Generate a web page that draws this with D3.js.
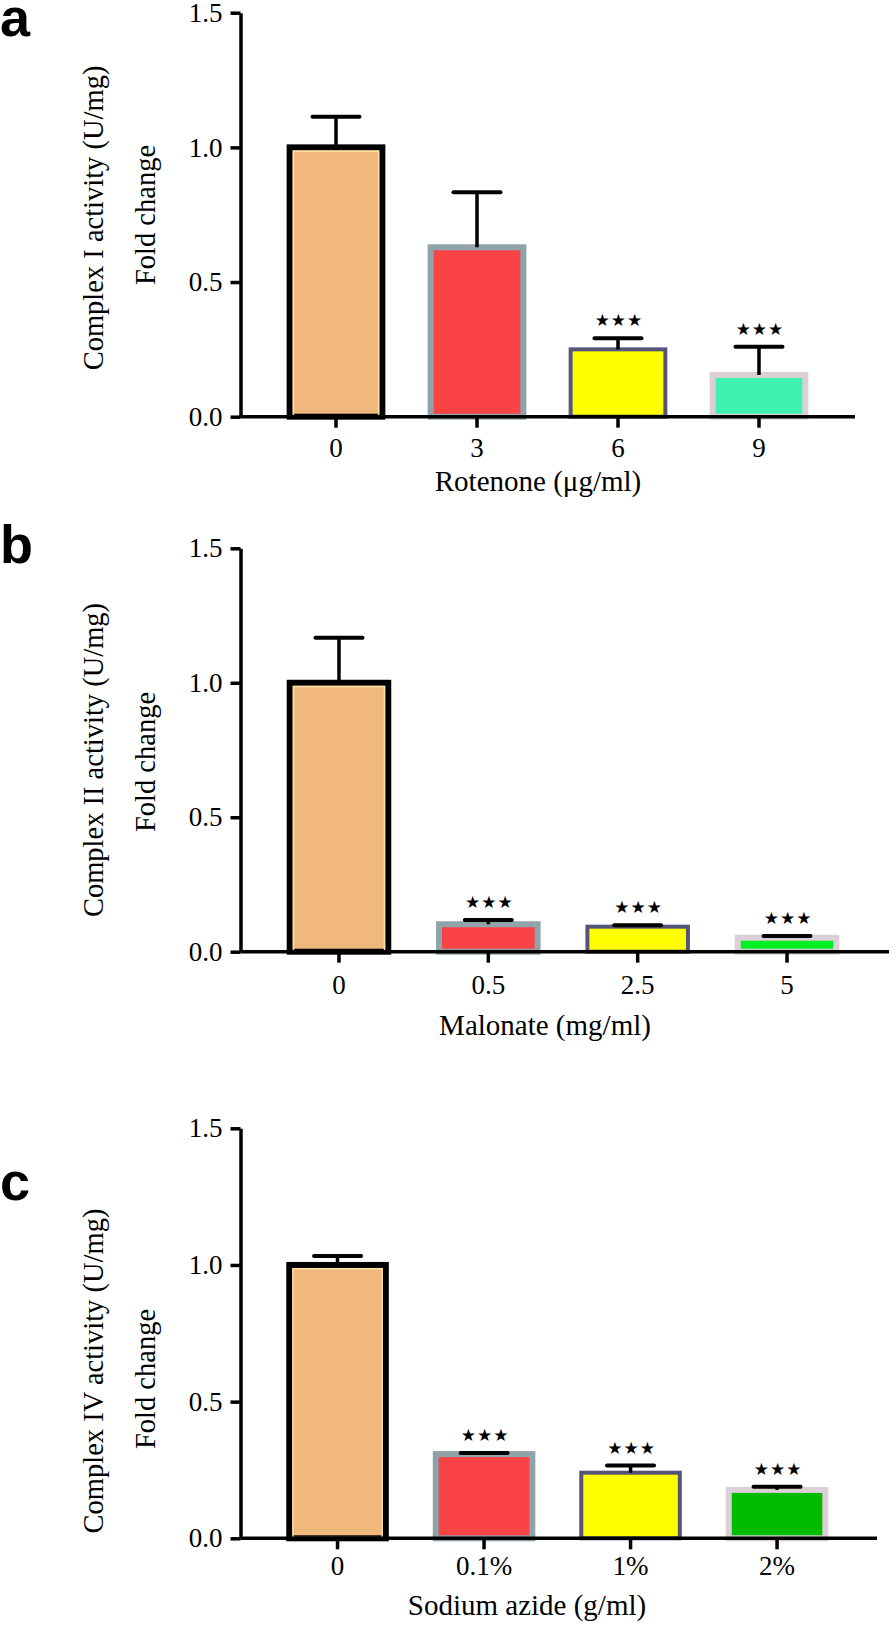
<!DOCTYPE html>
<html>
<head>
<meta charset="utf-8">
<script src="https://cdn.jsdelivr.net/npm/d3@7"></script>
<style>
  html, body { margin: 0; padding: 0; background: #fff; }
  svg { display: block; }
</style>
</head>
<body>
<svg id="chart" width="896" height="1638"></svg>
<script>
// ---------------- data ----------------
const yTicks = [0, 0.5, 1.0, 1.5];

const catsA = ["0", "3", "6", "9"];
const valuesA = [1.0, 0.629, 0.250, 0.155];
const errA = [0.114, 0.204, 0.041, 0.105];
const sigA = ["", "", "***", "***"];

const catsB = ["0", "0.5", "2.5", "5"];
const valuesB = [1.0, 0.102, 0.093, 0.052];
const errB = [0.167, 0.016, 0.005, 0.006];
const sigB = ["", "***", "***", "***"];

const catsC = ["0", "0.1%", "1%", "2%"];
const valuesC = [1.0, 0.308, 0.240, 0.177];
const errC = [0.033, 0.004, 0.026, 0.012];
const sigC = ["", "***", "***", "***"];

const letters = ["a", "b", "c"];
const yTitles = ["Complex I activity (U/mg)", "Complex II activity (U/mg)", "Complex IV activity (U/mg)"];
const yTitle2 = "Fold change";
const xTitles = ["Rotenone (\u03bcg/ml)", "Malonate (mg/ml)", "Sodium azide (g/ml)"];

// ---------------- styles / layout ----------------
const fills = [
  ["#F0B87D", "#F94345", "#FFFF00", "#40F2B0"],
  ["#F0B87D", "#F94345", "#FFFF00", "#00EE22"],
  ["#F0B87D", "#F94345", "#FFFF00", "#00BB00"]
];
const strokes = ["#000000", "#8FA3A8", "#55557A", "#DCD0D6"];
const strokeW = [6, 6, 4, 6];

const layouts = [
  { y0: 416.7, yTop: 12.7, xr: [265.5, 829.5], xEnd: 855, tickLblOff: 40, xTitleX: 538, xTitleY: 491, letterY: 36, yT1: 218, yT2: 215 },
  { y0: 951.7, yTop: 548.3, xr: [264.3, 861.7], xEnd: 889, tickLblOff: 42, xTitleX: 545, xTitleY: 1035, letterY: 563, yT1: 760, yT2: 762 },
  { y0: 1538.3, yTop: 1128.3, xr: [264.3, 850.3], xEnd: 877, tickLblOff: 37, xTitleX: 527, xTitleY: 1615, letterY: 1200, yT1: 1371, yT2: 1379 }
];
const axisX = 240.5;
const serif = "'Liberation Serif', 'Times New Roman', serif";

const panels = [
  { cats: catsA, vals: valuesA, errs: errA, sig: sigA },
  { cats: catsB, vals: valuesB, errs: errB, sig: sigB },
  { cats: catsC, vals: valuesC, errs: errC, sig: sigC }
];

const svg = d3.select("#chart");

panels.forEach((p, pi) => {
  const L = layouts[pi];
  const g = svg.append("g");

  const y = d3.scaleLinear().domain([0, 1.5]).range([L.y0, L.yTop]);
  const x = d3.scaleBand().domain(p.cats).range(L.xr).paddingInner(0.3).paddingOuter(0.15);

  // bars
  const data = p.cats.map((c, i) => ({ c, v: p.vals[i], e: p.errs[i], s: p.sig[i], i }));
  g.selectAll("rect.bar").data(data).join("rect")
    .attr("class", "bar")
    .attr("x", d => x(d.c) + strokeW[d.i] / 2)
    .attr("width", d => x.bandwidth() - strokeW[d.i])
    .attr("y", d => y(d.v))
    .attr("height", d => y(0) - y(d.v))
    .attr("fill", d => fills[pi][d.i])
    .attr("stroke", d => strokes[d.i])
    .attr("stroke-width", d => strokeW[d.i]);

  // inner light edge on control bar
  g.selectAll("rect.inner").data(data.filter(d => d.i === 0)).join("rect")
    .attr("class", "inner")
    .attr("x", d => x(d.c) + strokeW[0] + 0.75)
    .attr("width", d => x.bandwidth() - 2 * strokeW[0] - 1.5)
    .attr("y", d => y(d.v) + strokeW[0] / 2 + 0.75)
    .attr("height", d => y(0) - y(d.v) - strokeW[0] / 2 - 1.5)
    .attr("fill", "none")
    .attr("stroke", "#FFE2A8")
    .attr("stroke-width", 1.5);

  // error bars
  const capW = 47;
  data.forEach(d => {
    const cx = x(d.c) + x.bandwidth() / 2;
    g.append("line")
      .attr("x1", cx).attr("x2", cx)
      .attr("y1", y(d.v)).attr("y2", y(d.v + d.e))
      .attr("stroke", "#000").attr("stroke-width", 3.5);
    g.append("line")
      .attr("x1", cx - capW / 2).attr("x2", cx + capW / 2)
      .attr("y1", y(d.v + d.e)).attr("y2", y(d.v + d.e))
      .attr("stroke", "#000").attr("stroke-width", 4).attr("stroke-linecap", "round");
    if (d.s) {
      g.append("text")
        .attr("x", cx + 1)
        .attr("y", y(d.v + d.e) - 12)
        .attr("text-anchor", "middle")
        .attr("font-family", "'DejaVu Sans', sans-serif")
        .attr("font-size", 17)
        .attr("letter-spacing", 1)
        .attr("fill", "#000")
        .text(d.s.replace(/\*/g, "\u2605"));
    }
  });

  // y axis
  const yAxis = d3.axisLeft(y).tickValues(yTicks).tickFormat(d3.format(".1f"))
    .tickSize(10).tickPadding(8).tickSizeOuter(0);
  const ya = g.append("g").attr("transform", `translate(${axisX},0)`).call(yAxis);
  ya.select(".domain").attr("stroke", "#000").attr("stroke-width", 3.5);
  ya.selectAll(".tick line").attr("stroke", "#000").attr("stroke-width", 3.5);
  ya.selectAll(".tick text").attr("font-family", serif).attr("font-size", 27).attr("fill", "#000");

  // x axis
  const xAxis = d3.axisBottom(x).tickSize(11).tickPadding(L.tickLblOff - 11 - 19.2).tickSizeOuter(0);
  const xa = g.append("g").attr("transform", `translate(0,${L.y0})`).call(xAxis);
  xa.select(".domain").remove();
  xa.append("line").attr("x1", axisX).attr("x2", L.xEnd).attr("y1", 0).attr("y2", 0)
    .attr("stroke", "#000").attr("stroke-width", 3.5);
  xa.selectAll(".tick line").attr("stroke", "#000").attr("stroke-width", 3.5);
  xa.selectAll(".tick text").attr("font-family", serif).attr("font-size", 27).attr("fill", "#000");

  // x title
  g.append("text")
    .attr("x", L.xTitleX).attr("y", L.xTitleY)
    .attr("text-anchor", "middle")
    .attr("font-family", serif).attr("font-size", 29).attr("fill", "#000")
    .text(xTitles[pi]);

  // y titles
  g.append("text")
    .attr("transform", `translate(103,${L.yT1}) rotate(-90)`)
    .attr("text-anchor", "middle")
    .attr("font-family", serif).attr("font-size", 28.5).attr("fill", "#000")
    .text(yTitles[pi]);
  g.append("text")
    .attr("transform", `translate(155,${L.yT2}) rotate(-90)`)
    .attr("text-anchor", "middle")
    .attr("font-family", serif).attr("font-size", 28.5).attr("fill", "#000")
    .text(yTitle2);

  // panel letter
  g.append("text")
    .attr("x", 0).attr("y", L.letterY)
    .attr("font-family", "'Liberation Sans', Arial, sans-serif")
    .attr("font-weight", "bold").attr("font-size", 54).attr("fill", "#000")
    .text(letters[pi]);
});
</script>
</body>
</html>
